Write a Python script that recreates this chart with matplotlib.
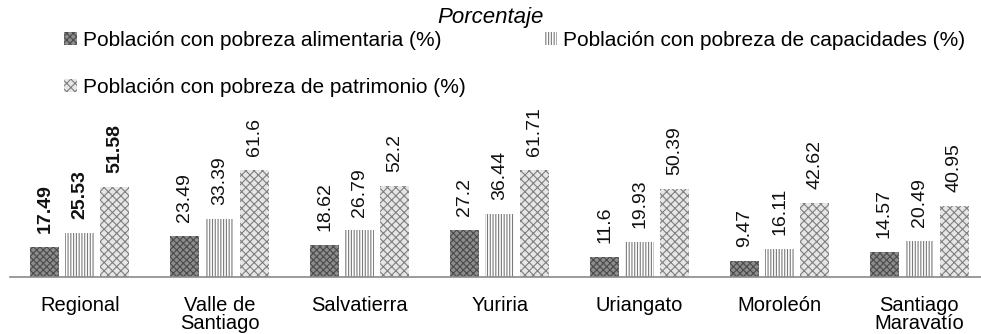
import numpy as np
import matplotlib
matplotlib.use("Agg")
import matplotlib.pyplot as plt
from matplotlib.patches import Patch

plt.rcParams["font.family"] = ["Liberation Sans", "DejaVu Sans"]
plt.rcParams["hatch.linewidth"] = 0.8

# ── data ────────────────────────────────────────────────────────────────
municipios = ["Regional", "Valle de\nSantiago", "Salvatierra", "Yuriria",
              "Uriangato", "Moroleón", "Santiago\nMaravatío"]
alimentaria = [17.49, 23.49, 18.62, 27.2, 11.6, 9.47, 14.57]
capacidades = [25.53, 33.39, 26.79, 36.44, 19.93, 16.11, 20.49]
patrimonio  = [51.58, 61.6, 52.2, 61.71, 50.39, 42.62, 40.95]
series_labels = ["Población con pobreza alimentaria (%)",
                 "Población con pobreza de capacidades (%)",
                 "Población con pobreza de patrimonio (%)"]

# ── styles ──────────────────────────────────────────────────────────────
styles = [
    dict(facecolor="#8c8c8c", edgecolor="#4a4a4a", hatch="xxxxx", linewidth=0),
    dict(facecolor="#ffffff", edgecolor="#7a7a7a", hatch="||||||", linewidth=0),
    dict(facecolor="#e6e6e6", edgecolor="#7f7f7f", hatch="xxxx", linewidth=0),
]

fig = plt.figure(figsize=(9.81, 3.34), dpi=100)
ax = fig.add_axes([10 / 981, 57 / 334, 971 / 981, 167 / 334])

x = np.arange(len(municipios))
w = 0.207
step = 0.25
all_series = [alimentaria, capacidades, patrimonio]
for i, (vals, st) in enumerate(zip(all_series, styles)):
    pos = x + (i - 1) * step
    bars = ax.bar(pos, vals, w, **st)
    for j, (b, v) in enumerate(zip(bars, vals)):
        ax.annotate(f"{v:g}", (b.get_x() + b.get_width() / 2, v),
                    xytext=(0, 10), textcoords="offset points",
                    rotation=90, ha="center", va="bottom", fontsize=14,
                    fontweight="bold" if j == 0 else "normal", color="#111111")

ax.set_xlim(-0.5, 6.44)
ax.set_ylim(0, 96)
ax.set_xticks(x)
ax.set_xticklabels(municipios, fontsize=14.5, linespacing=0.9)
ax.tick_params(axis="x", length=0, pad=14)
ax.set_yticks([])
for s in ["top", "right", "left"]:
    ax.spines[s].set_visible(False)
ax.spines["bottom"].set_color("#8a8a8a")
ax.spines["bottom"].set_linewidth(1.2)

fig.text(0.5, 1 - 17 / 334, "Porcentaje", ha="center", va="center",
         fontsize=16, style="italic")

# legend fills column by column: row 1 = alimentaria, capacidades; row 2 = patrimonio
handles = [Patch(label=l, **st) for l, st in zip(series_labels, styles)]
order = [0, 2, 1]
fig.legend(handles=[handles[k] for k in order], loc="upper left",
           bbox_to_anchor=(64 / 981, 1 - 31 / 334),
           ncol=2, frameon=False, fontsize=15, handlelength=0.6, handleheight=0.6,
           handletextpad=0.3, columnspacing=3.8, labelspacing=1.35,
           borderaxespad=0, borderpad=0)

fig.savefig("out.png", dpi=100)
